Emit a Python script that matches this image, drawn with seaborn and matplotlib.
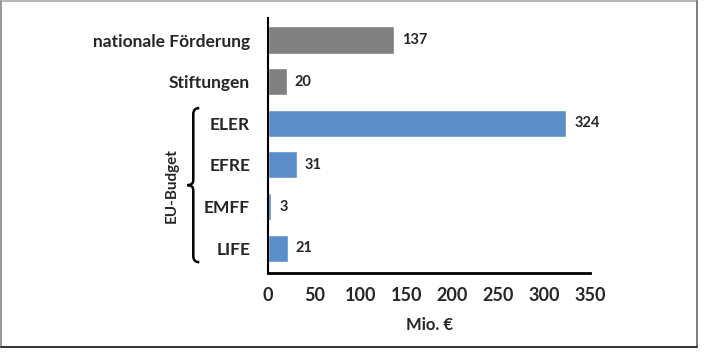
import numpy as np
import pandas as pd
import matplotlib
matplotlib.use("Agg")
import matplotlib.pyplot as plt
from matplotlib.path import Path
from matplotlib.patches import PathPatch
from matplotlib.lines import Line2D
import seaborn as sns

categories = ["nationale Förderung", "Stiftungen", "ELER", "EFRE", "EMFF", "LIFE"]
values = [137, 20, 324, 31, 3, 21]
groups = ["andere", "andere", "EU", "EU", "EU", "EU"]
x_ticks = [0, 50, 100, 150, 200, 250, 300, 350]

sns.set_style("white")
plt.rcParams['font.family'] = ['Lato', 'DejaVu Sans']
plt.rcParams['font.weight'] = 'bold'

df = pd.DataFrame({"Kategorie": categories, "Wert": values, "Gruppe": groups})

fig = plt.figure(figsize=(7.04, 3.52), dpi=100)
ax = fig.add_axes([0.381, 0.224, 0.457, 0.725])

sns.barplot(data=df, y="Kategorie", x="Wert", hue="Gruppe",
            palette={"andere": "#808080", "EU": "#5b8dc9"},
            dodge=False, width=0.65, legend=False, ax=ax, orient="h",
            saturation=1)

for cont in ax.containers:
    ax.bar_label(cont, fmt="%d", padding=6, fontsize=10.5, fontweight="bold")

ax.set_xlim(0, 350)
ax.set_ylim(5.6, -0.53)
ax.set_xticks(x_ticks)
ax.set_xlabel("Mio. €", fontsize=12, fontweight="bold", labelpad=9)
ax.set_ylabel("")
ax.tick_params(axis="y", length=0, pad=13, labelsize=12.5)
ax.tick_params(axis="x", length=0, pad=10, labelsize=13)
for lab in ax.get_xticklabels() + ax.get_yticklabels():
    lab.set_fontweight("bold")

for s in ["top", "right"]:
    ax.spines[s].set_visible(False)
ax.spines["left"].set_color("black")
ax.spines["bottom"].set_color("black")
ax.spines["left"].set_linewidth(1.5)
ax.spines["bottom"].set_linewidth(2)

# curly brace for EU-Budget (x in axes fraction, y in data units)
def fx(px):
    return (px - 268) / 322.0

def fy(py):
    return (py - 40) / 41.6

verts = [(fx(199), fy(108)), (fx(193), fy(108)), (fx(193), fy(114)),
         (fx(193), fy(180)), (fx(193), fy(185)), (fx(187), fy(185)),
         (fx(193), fy(185)), (fx(193), fy(190)),
         (fx(193), fy(256)), (fx(193), fy(262)), (fx(199), fy(262))]
codes = [Path.MOVETO, Path.CURVE3, Path.CURVE3,
         Path.LINETO, Path.CURVE3, Path.CURVE3,
         Path.CURVE3, Path.CURVE3,
         Path.LINETO, Path.CURVE3, Path.CURVE3]
brace = PathPatch(Path(verts, codes), transform=ax.get_yaxis_transform(),
                  facecolor="none", edgecolor="black", linewidth=1.8, clip_on=False)
ax.add_patch(brace)
ax.text(fx(171), fy(185), "EU-Budget", rotation=90, ha="center", va="center",
        fontsize=11, fontweight="bold", transform=ax.get_yaxis_transform())

# image frame
x0, x1 = 0.5 / 704, 697 / 704
y0, y1 = 1 - 347 / 352, 1 - 0.5 / 352
for xs, ys, c in [([x0, x1], [y1, y1], "#aaaaaa"), ([x0, x0], [y0, y1], "#888888"),
                  ([x1, x1], [y0, y1], "#666666"), ([x0, x1], [y0, y0], "#111111")]:
    fig.lines.append(Line2D(xs, ys, transform=fig.transFigure, color=c, linewidth=1.2))

fig.savefig("out.png", dpi=100)
